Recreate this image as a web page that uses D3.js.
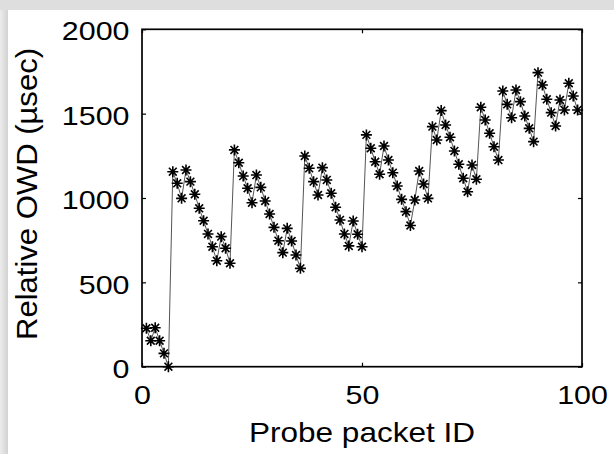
<!DOCTYPE html>
<html>
<head>
<meta charset="utf-8">
<script src="https://cdn.jsdelivr.net/npm/d3@7"></script>
<style>
  html, body { margin: 0; padding: 0; background: #fff; }
  svg { display: block; }
  text { font-family: "Liberation Sans", Arial, Helvetica, sans-serif; fill: #000; }
</style>
</head>
<body>
<svg id="chart" width="614" height="454"></svg>
<script>
// ---- data ----
const packetIds = [1,2,3,4,5,6,7,8,9,10,11,12,13,14,15,16,17,18,19,20,
  21,22,23,24,25,26,27,28,29,30,31,32,33,34,35,36,37,38,39,40,
  41,42,43,44,45,46,47,48,49,50,51,52,53,54,55,56,57,58,59,60,
  61,62,63,64,65,66,67,68,69,70,71,72,73,74,75,76,77,78,79,80,
  81,82,83,84,85,86,87,88,89,90,91,92,93,94,95,96,97,98,99];
const relativeOwd = [228,154,231,154,79,0,1156,1087,998,1166,
  1097,1022,939,865,787,711,628,771,702,613,
  1285,1209,1130,1058,972,1136,1063,982,905,826,
  747,676,820,745,662,583,1249,1176,1097,1018,
  1180,1107,1028,945,870,787,716,864,785,711,
  1374,1295,1215,1141,1308,1225,1150,1071,992,919,
  837,988,1160,1083,998,1423,1344,1518,1433,1360,
  1279,1200,1117,1037,1196,1111,1538,1462,1384,1304,
  1225,1634,1555,1476,1640,1571,1486,1413,1334,1743,
  1670,1585,1506,1427,1581,1522,1680,1605,1522];
const xTicks = [0, 50, 100];
const yTicks = [0, 500, 1000, 1500, 2000];
const xLabel = "Probe packet ID";
const yLabel = "Relative OWD (\u00B5sec)";

// ---- layout ----
const svg = d3.select("#chart");
const L = 142, R = 582, T = 29.3, B = 366.7;
const x = d3.scaleLinear().domain([0, 100]).range([L, R]);
const y = d3.scaleLinear().domain([0, 2000]).range([B, T]);

// background frame (slide look)
const defs = svg.append("defs");
const grad = defs.append("linearGradient").attr("id", "lg").attr("x1", 0).attr("x2", 1).attr("y1", 0).attr("y2", 0);
grad.append("stop").attr("offset", "0%").attr("stop-color", "#ececec");
grad.append("stop").attr("offset", "100%").attr("stop-color", "#d2d2d2");
svg.append("rect").attr("x", 0).attr("y", 0).attr("width", 614).attr("height", 454).attr("fill", "#dedede");
svg.append("rect").attr("x", 0).attr("y", 10).attr("width", 8).attr("height", 444).attr("fill", "url(#lg)");
svg.append("rect").attr("x", 8).attr("y", 10).attr("width", 606).attr("height", 444).attr("fill", "#fff");

// axes
const sx = 1.17;
const gx = svg.append("g").attr("transform", `translate(0,${B})`)
  .call(d3.axisBottom(x).tickValues(xTicks).tickSize(-4).tickSizeOuter(0).tickFormat(d3.format("d")));
gx.selectAll("text").attr("y", 0).attr("dy", 0)
  .attr("transform", `translate(0,37.3) scale(${sx},1)`)
  .style("font-size", "26px").attr("text-anchor", "middle");

const gy = svg.append("g").attr("transform", `translate(${L},0)`)
  .call(d3.axisLeft(y).tickValues(yTicks).tickSize(-4).tickSizeOuter(0).tickFormat(d3.format("d")));
gy.selectAll("text").attr("x", 0).attr("dy", "0.41em")
  .attr("transform", `translate(-12.5,0) scale(${sx},1)`)
  .style("font-size", "26px").attr("text-anchor", "end");

const gt = svg.append("g").attr("transform", `translate(0,${T})`)
  .call(d3.axisTop(x).tickValues(xTicks).tickSize(-4).tickSizeOuter(0).tickFormat(""));
const gr = svg.append("g").attr("transform", `translate(${R},0)`)
  .call(d3.axisRight(y).tickValues(yTicks).tickSize(-4).tickSizeOuter(0).tickFormat(""));

[gx, gy, gt, gr].forEach(g => {
  g.select(".domain").remove();
  g.selectAll(".tick line").attr("stroke", "#000").attr("stroke-width", 1.2);
});

// box
svg.append("rect").attr("x", L).attr("y", T).attr("width", R - L).attr("height", B - T)
  .attr("fill", "none").attr("stroke", "#000").attr("stroke-width", 1.7);

// data line
const pts = packetIds.map((id, i) => ({ id, v: relativeOwd[i] }));
svg.append("path").datum(pts)
  .attr("fill", "none").attr("stroke", "#555").attr("stroke-width", 1)
  .attr("d", d3.line().x(d => x(d.id)).y(d => y(d.v)));

// asterisk markers
const star = "M-5.5,0H5.5M0,-5.5V5.5M-3.9,-3.9L3.9,3.9M-3.9,3.9L3.9,-3.9";
svg.append("g").selectAll("path").data(pts).join("path")
  .attr("transform", d => `translate(${x(d.id)},${y(d.v)})`)
  .attr("d", star).attr("fill", "none").attr("stroke", "#000").attr("stroke-width", 1.6);

// axis labels
svg.append("text").attr("x", (L + R) / 2).attr("y", 441.5)
  .attr("text-anchor", "middle").style("font-size", "28px")
  .attr("textLength", 226).attr("lengthAdjust", "spacingAndGlyphs")
  .text(xLabel);
svg.append("text").attr("transform", "translate(36.7,194) rotate(-90)")
  .attr("text-anchor", "middle").style("font-size", "30px")
  .attr("textLength", 292).attr("lengthAdjust", "spacingAndGlyphs")
  .text(yLabel);
</script>
</body>
</html>
